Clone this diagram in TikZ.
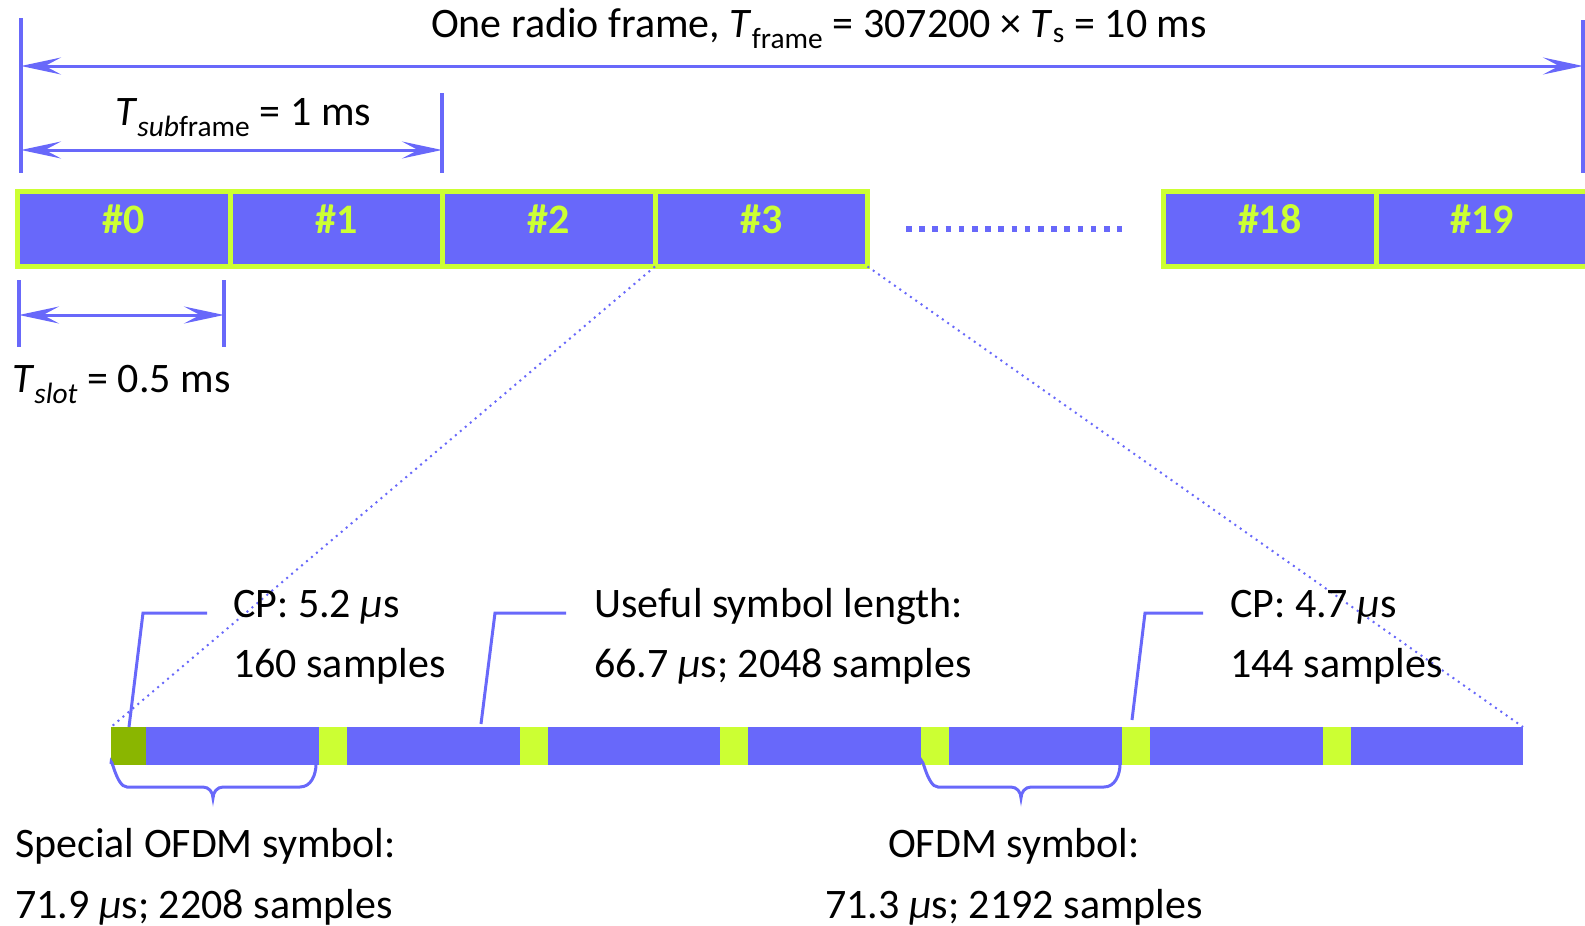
\documentclass[tikz,border=0pt]{standalone}
\usepackage{fontspec}
\setmainfont{Carlito}
\usetikzlibrary{arrows.meta}
\definecolor{bluefill}{RGB}{104,104,250}
\definecolor{limeC}{RGB}{204,255,51}
\definecolor{darkgreenC}{RGB}{138,182,0}
\begin{document}
\begin{tikzpicture}[x=1pt,y=-1pt,
  txt/.style={font=\fontsize{42}{50}\selectfont, inner sep=0pt, anchor=base west},
  ctxt/.style={txt, anchor=base},
  dimarrow/.style={draw=bluefill, line width=3pt,
    {Stealth[length=40pt,width=17pt,inset=16pt]}-{Stealth[length=40pt,width=17pt,inset=16pt]}},
  tick/.style={draw=bluefill, line width=4pt},
  sfbox/.style={draw=limeC, fill=bluefill, line width=5pt, minimum width=212.5pt, minimum height=75pt,
    inner sep=0pt, outer sep=0pt, text=limeC, font=\fontsize{42}{50}\selectfont\bfseries,
    text height=27pt, text depth=19pt},
  callout/.style={draw=bluefill, line width=3pt},
  zoomline/.style={draw=bluefill, line width=2pt, dash pattern=on 2pt off 4.5pt},
  brace/.style={draw=bluefill, line width=3pt},
]
\useasboundingbox (0,0) rectangle (1585,926);

% title
\node[ctxt] (title) at (819,37) {One radio frame, \textit{T}\textsubscript{frame} = 307200 × \textit{T}\textsubscript{s} = 10 ms};

% frame ticks and arrow
\coordinate (fL1) at (21,18); \coordinate (fL2) at (21,173);
\coordinate (fR1) at (1583,20); \coordinate (fR2) at (1583,173);
\draw[tick] (fL1) -- (fL2);
\draw[tick] (fR1) -- (fR2);
\coordinate (fa1) at (21,66); \coordinate (fa2) at (1583,66);
\draw[dimarrow] (fa1) -- (fa2);

% subframe
\coordinate (sT1) at (442,93); \coordinate (sT2) at (442,173);
\draw[tick] (sT1) -- (sT2);
\coordinate (sa1) at (21,150); \coordinate (sa2) at (442,150);
\draw[dimarrow] (sa1) -- (sa2);
\node[txt] (tsub) at (115,125) {\textit{T}\textsubscript{\textit{sub}frame} = 1 ms};

% subframe boxes
\node[sfbox] (s0) at (123.75,229) {\#0};
\node[sfbox] (s1) at (336.25,229) {\#1};
\node[sfbox] (s2) at (548.75,229) {\#2};
\node[sfbox] (s3) at (761.25,229) {\#3};
\node[sfbox] (s18) at (1269.75,229) {\#18};
\node[sfbox] (s19) at (1482.25,229) {\#19};

% ellipsis
\coordinate (d1) at (906,229); \coordinate (d2) at (1122,229);
\draw[draw=bluefill, line width=5.5pt, dash pattern=on 5.5pt off 7.7pt] (d1) -- (d2);

% slot
\coordinate (tl1) at (19,280); \coordinate (tl2) at (19,347);
\coordinate (tr1) at (224,280); \coordinate (tr2) at (224,347);
\draw[tick] (tl1) -- (tl2);
\draw[tick] (tr1) -- (tr2);
\coordinate (la1) at (19,315); \coordinate (la2) at (224,315);
\draw[dimarrow] (la1) -- (la2);
\node[txt] (tslot) at (12,392) {\textit{T}\textsubscript{\textit{slot}} = 0.5 ms};

% bottom bar
\fill[darkgreenC] (111,727) rectangle (146,765);
\fill[bluefill] (146,727) rectangle (319,765);
\foreach \i in {0,...,5} {
  \pgfmathsetmacro{\xa}{319+200.7*\i}
  \pgfmathsetmacro{\xb}{\xa+28}
  \pgfmathsetmacro{\xc}{\xa+200.7}
  \fill[limeC] (\xa,727) rectangle (\xb,765);
  \fill[bluefill] (\xb,727) rectangle (\xc,765);
}
\coordinate (barL) at (111,727);
\coordinate (barR) at (1523,727);

% zoom lines
\draw[zoomline] (s3.south west) -- (barL);
\draw[zoomline] (s3.south east) -- (barR);

% callouts
\node[txt] (cp1a) at (233,617) {CP: 5.2 \textit{μ}s};
\node[txt] (cp1b) at (233,677) {160 samples};
\node[txt] (usa) at (594,617) {Useful symbol length:};
\node[txt] (usb) at (594,677) {66.7 \textit{μ}s; 2048 samples};
\node[txt] (cp2a) at (1230,617) {CP: 4.7 \textit{μ}s};
\node[txt] (cp2b) at (1230,677) {144 samples};

\coordinate (c1a) at (129,727); \coordinate (c1b) at (143,613); \coordinate (c1c) at (207,613);
\draw[callout] (c1a) -- (c1b) -- (c1c);
\coordinate (c2a) at (481,724); \coordinate (c2b) at (495,613); \coordinate (c2c) at (566,613);
\draw[callout] (c2a) -- (c2b) -- (c2c);
\coordinate (c3a) at (1132,720); \coordinate (c3b) at (1145,613); \coordinate (c3c) at (1203,613);
\draw[callout] (c3a) -- (c3b) -- (c3c);

% braces
\draw[brace] (111,764) to[out=90,in=180] (127,787) -- (203,787) to[out=0,in=90] (213,798)
  to[out=90,in=180] (223,787) -- (300,787) to[out=0,in=-90] (316,764);
\draw[brace] (922,764) to[out=90,in=180] (938,787) -- (1011,787) to[out=0,in=90] (1021,798)
  to[out=90,in=180] (1031,787) -- (1104,787) to[out=0,in=-90] (1120,764);

% bottom labels
\node[txt] (spa) at (15,857) {Special OFDM symbol:};
\node[txt] (spb) at (15,918) {71.9 \textit{μ}s; 2208 samples};
\node[ctxt] (ofa) at (1014,857) {OFDM symbol:};
\node[ctxt] (ofb) at (1014,918) {71.3 \textit{μ}s; 2192 samples};
\end{tikzpicture}
\end{document}
